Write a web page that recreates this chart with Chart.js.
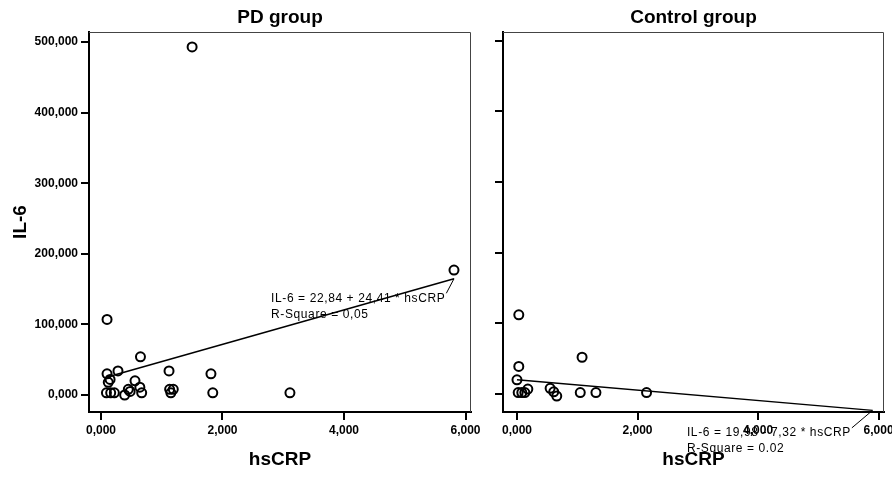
<!DOCTYPE html>
<html>
<head>
<meta charset="utf-8">
<script src="https://cdn.jsdelivr.net/npm/chart.js@4.4.1/dist/chart.umd.min.js"></script>
<style>
html, body { margin: 0; padding: 0; background: #fff; }
#wrap { position: relative; width: 892px; height: 479px; }
#wrap canvas { position: absolute; left: 0; top: 0; }
</style>
</head>
<body>
<div id="wrap">
  <canvas id="pd" width="892" height="479"></canvas>
  <canvas id="ctrl" width="892" height="479"></canvas>
</div>
<script>
// PD group (hsCRP, IL-6)
const pdCrp = [1.50, 5.81, 0.10, 0.65, 0.28, 0.10, 0.15, 0.12, 0.56, 0.64, 0.45, 0.39,
               0.09, 0.22, 0.67, 1.12, 1.13, 1.19, 1.15, 1.81, 1.84, 3.11, 0.48, 0.16];
const pdIl6 = [493, 177, 107, 54, 34, 30, 22, 18, 20, 11, 8, 0,
               3, 3, 3, 34, 8, 8, 3, 30, 3, 3, 5, 3];
// Control group
const ctrlCrp = [0.03, 0.03, 0.00, 1.08, 2.15, 0.02, 0.08, 0.13, 0.18, 0.55, 0.61, 0.66, 1.05, 1.31];
const ctrlIl6 = [112, 39, 20, 52, 2, 2, 2, 2, 7, 8, 3, -3, 2, 2];

// fitted lines (end points)
const pdFitX = [0.09, 5.81];
const pdFitY = [25.0, 164.7];
const ctrlFitX = [0.0, 5.9];
const ctrlFitY = [19.98, -23.2];

const xTickValues = [0, 2, 4, 6];
const yTickValues = [0, 100, 200, 300, 400, 500];

const pdNote = ['IL-6 = 22,84 + 24,41 * hsCRP', 'R-Square = 0,05'];
const ctrlNote = ['IL-6 = 19,98 - 7,32 * hsCRP', 'R-Square = 0.02'];

const FONT = '"Liberation Sans", Arial, sans-serif';
const fmt = v => v.toFixed(3).replace('.', ',');

const panelDecor = {
  id: 'panelDecor',
  afterDraw(chart, args, opts) {
    const { ctx, chartArea: a, scales } = chart;
    ctx.save();
    // thin top / right frame
    ctx.strokeStyle = '#444';
    ctx.lineWidth = 1;
    ctx.beginPath();
    ctx.moveTo(a.left, a.top + 0.5);
    ctx.lineTo(a.right - 0.5, a.top + 0.5);
    ctx.lineTo(a.right - 0.5, a.bottom);
    ctx.stroke();
    // panel title
    ctx.fillStyle = '#000';
    ctx.font = 'bold 19px ' + FONT;
    ctx.textAlign = 'center';
    ctx.textBaseline = 'middle';
    ctx.fillText(opts.title, (a.left + a.right) / 2, 18);
    // fit annotation
    const x = scales.x.getPixelForValue(opts.noteAt[0]);
    const y = scales.y.getPixelForValue(opts.noteAt[1]);
    ctx.font = '12px ' + FONT;
    ctx.letterSpacing = '0.6px';
    ctx.textAlign = 'left';
    opts.note.forEach((t, i) => ctx.fillText(t, x, y + i * 16));
    const w = ctx.measureText(opts.note[0]).width;
    const ex = scales.x.getPixelForValue(opts.fitEnd[0]);
    const ey = scales.y.getPixelForValue(opts.fitEnd[1]);
    ctx.strokeStyle = '#000';
    ctx.beginPath();
    ctx.moveTo(x + w + 1, y - 5);
    ctx.lineTo(ex, ey);
    ctx.stroke();
    ctx.restore();
  }
};

function makeScales(xr, yr, yWidth, showY) {
  return {
    x: {
      type: 'linear', min: xr[0], max: xr[1],
      afterBuildTicks: s => { s.ticks = xTickValues.map(v => ({ value: v })); },
      afterFit: s => { s.height = 67; s.paddingLeft = 0; s.paddingRight = 0; },
      grid: { drawOnChartArea: false, drawTicks: true, tickLength: 8, lineWidth: 2, color: '#000' },
      border: { display: true, color: '#000', width: 2 },
      ticks: { color: '#000', font: { family: FONT, size: 12, weight: 'bold' }, padding: 3,
               maxRotation: 0, autoSkip: false, callback: v => fmt(v) },
      title: { display: true, text: 'hsCRP', color: '#000',
               font: { family: FONT, size: 19, weight: 'bold' }, padding: { top: 0, bottom: 8 } }
    },
    y: {
      type: 'linear', min: yr[0], max: yr[1],
      afterBuildTicks: s => { s.ticks = yTickValues.map(v => ({ value: v })); },
      afterFit: s => { s.width = yWidth; s.paddingTop = 0; s.paddingBottom = 0; },
      grid: { drawOnChartArea: false, drawTicks: true, tickLength: 8, lineWidth: 2, color: '#000' },
      border: { display: true, color: '#000', width: 2 },
      ticks: { color: '#000', font: { family: FONT, size: 12, weight: 'bold' }, padding: 3,
               autoSkip: false, callback: v => showY ? fmt(v) : '' },
      title: { display: showY, text: 'IL-6', color: '#000',
               font: { family: FONT, size: 19, weight: 'bold' }, padding: { top: 9, bottom: 0 } }
    }
  };
}

function makeChart(id, crp, il6, fitX, fitY, opts) {
  return new Chart(document.getElementById(id), {
    type: 'scatter',
    data: {
      datasets: [
        {
          data: crp.map((x, i) => ({ x: x, y: il6[i] })),
          pointRadius: 4.5,
          pointBorderWidth: 2,
          pointBorderColor: '#000',
          pointBackgroundColor: 'rgba(255,255,255,0)'
        },
        {
          data: fitX.map((x, i) => ({ x: x, y: fitY[i] })),
          showLine: true,
          pointRadius: 0,
          borderColor: '#000',
          borderWidth: 1.5
        }
      ]
    },
    options: {
      responsive: false,
      animation: false,
      events: [],
      devicePixelRatio: 1,
      layout: { padding: opts.padding },
      plugins: {
        legend: { display: false },
        tooltip: { enabled: false },
        panelDecor: { title: opts.title, note: opts.note, noteAt: opts.noteAt,
                      fitEnd: [fitX[1], fitY[1]] }
      },
      scales: makeScales(opts.xr, opts.yr, opts.yWidth, opts.showY)
    },
    plugins: [panelDecor]
  });
}

makeChart('pd', pdCrp, pdIl6, pdFitX, pdFitY, {
  title: 'PD group', note: pdNote, noteAt: [2.80, 137],
  padding: { left: 0, top: 32, right: 421, bottom: 0 },
  xr: [-0.197, 6.09], yr: [-24.1, 514.2], yWidth: 89, showY: true
});
makeChart('ctrl', ctrlCrp, ctrlIl6, ctrlFitX, ctrlFitY, {
  title: 'Control group', note: ctrlNote, noteAt: [2.82, -55],
  padding: { left: 475, top: 32, right: 8, bottom: 0 },
  xr: [-0.232, 6.09], yr: [-25.5, 512.3], yWidth: 28, showY: false
});
</script>
</body>
</html>
